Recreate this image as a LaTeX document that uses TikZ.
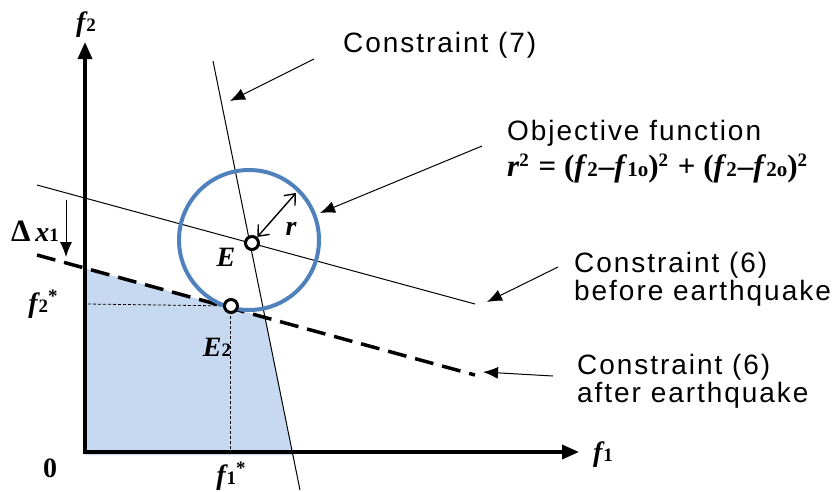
\documentclass[tikz,border=0pt]{standalone}
\usepackage{fontspec}
\setmainfont{Liberation Sans}
\newfontfamily\tms{Liberation Serif}
\newfontfamily\lblfont[LetterSpace=7]{Liberation Sans}
\usetikzlibrary{arrows.meta}
\definecolor{ringblue}{HTML}{4F81BD}
\definecolor{fillblue}{HTML}{C6D9F1}
\newcommand\lowsub[1]{{\upshape\fontsize{19}{19}\selectfont #1}}
\newcommand\highsup[1]{\raisebox{10pt}{\upshape\fontsize{19}{19}\selectfont #1}}
\newcommand\fsub[1]{{\upshape\fontsize{21}{21}\selectfont #1}}
\begin{document}
\begin{tikzpicture}[x=1pt,y=-1pt,
 lbl/.style={font=\lblfont\fontsize{28}{28}\selectfont, align=left, inner sep=0pt},
 mlbl/.style={font=\tms\bfseries\itshape\fontsize{28}{30}\selectfont, inner sep=0pt},
 ptr/.style={-{Latex[length=15pt,width=12pt]}, line width=1pt},
 ax/.style={line width=3.5pt, line join=miter, {Triangle[length=17pt,width=14pt]}-{Triangle[length=17pt,width=14pt]}},
 thinline/.style={line width=1pt},
 guide/.style={line width=0.8pt, dash pattern=on 3pt off 2pt},
 pt/.style={circle, draw, fill=white, line width=3pt, minimum size=13pt, inner sep=0pt}
]
\useasboundingbox (0,0) rectangle (835,491);

% feasible region
\fill[fillblue] (85,268) -- (265,317.5) -- (292.6,455) -- (85,455) -- cycle;

% guides
\coordinate (E2c) at (231,306);
\draw[guide] (88,304) -- (E2c);
\draw[guide] (230,306) -- (230,452);

% constraint lines
\coordinate (c7a) at (213,61);
\coordinate (c7b) at (300,490);
\draw[thinline] (c7a) -- (c7b);
\coordinate (c6a) at (37,185);
\coordinate (c6b) at (475,304);
\draw[thinline] (c6a) -- (c6b);
\coordinate (d6a) at (37,255);
\coordinate (d6b) at (475,375);
\draw[line width=3.5pt, dash pattern=on 19pt off 9pt] (d6a) -- (d6b);

% axes
\coordinate (O) at (85,452);
\coordinate (Y) at (85,42);
\coordinate (X) at (579,452);
\draw[ax] (Y) -- (O) -- (X);

% objective circle
\draw[ringblue, line width=4pt] (249,240) circle[radius=70];

% points
\node[pt] (E) at (252,243) {};
\node[pt] (E2) at (E2c) {};
\coordinate (rtip) at (296,193);
\draw[{Straight Barb[length=9pt,width=15pt]}-{Straight Barb[length=9pt,width=15pt]}, line width=1.4pt] (E) -- (rtip);

% math labels
\node[mlbl] (f2lab) at (86,25) {f\kern1pt\lowsub{\bfseries 2}};
\node[mlbl] (f1lab) at (603,455) {f\kern1pt\lowsub{\bfseries 1}};
\node[mlbl, font=\tms\bfseries\fontsize{28}{30}\selectfont] (zero) at (50,468) {0};
\node[mlbl] (f1s) at (231,476) {f\kern1pt\lowsub{\bfseries 1}\highsup{\bfseries *}};
\node[mlbl] (f2s) at (43,304) {f\kern1pt\lowsub{\bfseries 2}\highsup{\bfseries *}};
\node[mlbl] (dx) at (35,231) {{\upshape\fontsize{31}{31}\selectfont Δ}\kern5pt x\lowsub{\bfseries 1}};
\node[mlbl] (Elab) at (226,257) {E};
\node[mlbl] (E2lab) at (217,347) {E\lowsub{\bfseries 2}};
\node[mlbl] (rlab) at (291,229) {r};

% Delta x1 arrow
\coordinate (dxa) at (66,200);
\coordinate (dxb) at (66,257);
\draw[ptr] (dxa) -- (dxb);

% text labels
\node[lbl, anchor=west] (t7) at (343,45) {Constraint (7)};
\node[lbl, anchor=west] (tobj) at (507,133) {Objective function};
\node[mlbl, anchor=west, font=\tms\bfseries\fontsize{31}{32}\selectfont] (tform) at (507,169)
 {\textit{r}\highsup{2}\kern2pt{} = (\textit{f}\fsub{2}\kern1pt\textendash\textit{f}\fsub{1o})\highsup{2}\kern2pt{} + (\textit{f}\fsub{2}\kern1pt\textendash\textit{f}\fsub{2o})\highsup{2}};
\node[lbl, anchor=west] (tb) at (574,279) {Constraint (6)\\before earthquake};
\node[lbl, anchor=west] (ta) at (577,381) {Constraint (6)\\after earthquake};

% pointer arrows
\coordinate (p7a) at (314,59);  \coordinate (p7b) at (230,101);
\draw[ptr] (p7a) -- (p7b);
\coordinate (poa) at (482,146); \coordinate (pob) at (320,213);
\draw[ptr] (poa) -- (pob);
\coordinate (pba) at (558,267); \coordinate (pbb) at (487,302);
\draw[ptr] (pba) -- (pbb);
\coordinate (paa) at (553,376); \coordinate (pab) at (483,372);
\draw[ptr] (paa) -- (pab);
\end{tikzpicture}
\end{document}
